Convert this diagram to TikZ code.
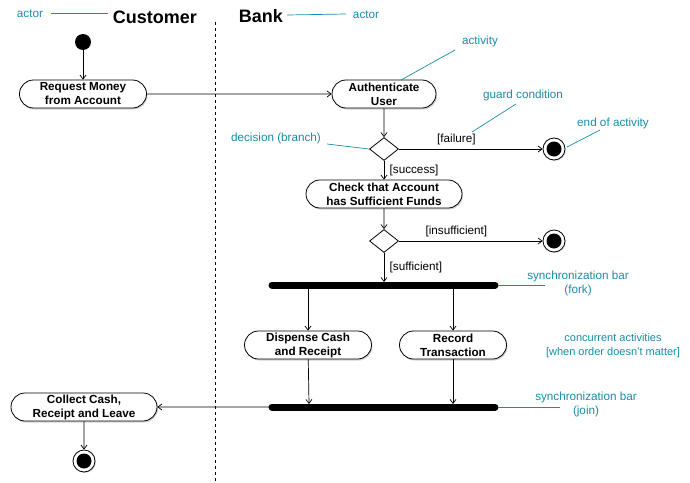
\documentclass[tikz,border=0pt]{standalone}
\usepackage{fontspec}
\setmainfont{Liberation Sans}
\usetikzlibrary{arrows.meta,shapes.geometric,shapes.misc,shadows}
\definecolor{note}{RGB}{24,140,168}
\tikzset{
  act/.style={draw,line width=0.8pt,rounded rectangle,minimum height=28pt,align=center,inner sep=1.5pt,font=\fontsize{11.7}{14}\selectfont\bfseries,fill=white,drop shadow={shadow xshift=1pt,shadow yshift=-1.5pt,fill=black!35}},
  dec/.style={draw,line width=0.8pt,diamond,aspect=1.3,minimum width=29pt,minimum height=23pt,inner sep=0pt,fill=white},
  startnode/.style={circle,fill=black,minimum size=16pt,inner sep=0pt},
  endnode/.style={circle,draw,thick,minimum size=22pt,inner sep=0pt,fill=white,
     drop shadow={shadow xshift=0.8pt,shadow yshift=-1pt,fill=black!30}},
  bar/.style={line width=7pt,line cap=round},
  flow/.style={-{Straight Barb[length=4pt,width=6pt]},line width=0.7pt},
  noteline/.style={draw=note,line width=0.7pt},
  notetxt/.style={text=note,font=\fontsize{11.7}{14}\selectfont,align=center},
  guard/.style={font=\fontsize{11.7}{14}\selectfont},
  title/.style={font=\fontsize{18}{20}\selectfont\bfseries}
}
\begin{document}
\begin{tikzpicture}[x=1pt,y=-1pt]
\useasboundingbox (0,0) rectangle (690,482);
% swimlane separator
\draw[dashed,line width=0.8pt] (215,22) -- (215,482);
% titles
\node[title] (cust) at (155,17) {Customer};
\node[title] (bank) at (261,16) {Bank};
\node[notetxt] (actL) at (30,14) {actor};
\node[notetxt] (actR) at (366,15) {actor};
\draw[noteline] (51,13) -- (108,13);
\draw[noteline] (287,15) -- (346,14);

% nodes
\node[startnode] (start) at (83,42) {};
\node[act,minimum width=130pt] (req) at (83,94) {Request Money\\from Account};
\node[act,minimum width=107pt] (auth) at (384,94) {Authenticate\\User};
\node[dec] (d1) at (384,149) {};
\node[endnode] (e1) at (554,149) {};
\fill (e1.center) circle (7.5pt);
\node[act,minimum width=159pt] (check) at (384,194) {Check that Account\\has Sufficient Funds};
\node[dec] (d2) at (384,241) {};
\node[endnode] (e2) at (554,241) {};
\fill (e2.center) circle (7.5pt);
\coordinate (forkL) at (272,285);
\coordinate (forkR) at (495,285);
\draw[bar] (forkL) -- (forkR);
\node[act,minimum width=130pt] (disp) at (308,345) {Dispense Cash\\and Receipt};
\node[act,minimum width=110pt] (rec) at (453,345) {Record\\Transaction};
\coordinate (joinL) at (272,407);
\coordinate (joinR) at (495,407);
\draw[bar] (joinL) -- (joinR);
\node[act,minimum width=149pt] (coll) at (84,407) {Collect Cash,\\Receipt and Leave};
\node[endnode] (e3) at (84,461) {};
\fill (e3.center) circle (7.5pt);

% flows
\draw[flow] (start) -- (req);
\draw[flow] (req) -- (auth);
\draw[flow] (auth) -- (d1);
\draw[flow] (d1) -- node[guard,above,pos=0.4] (gfail) {[failure]} (e1);
\draw[flow] (d1) -- node[guard,right,xshift=2pt] (gsucc) {[success]} (check);
\draw[flow] (check) -- (d2);
\draw[flow] (d2) -- node[guard,above,pos=0.4] (gins) {[insufficient]} (e2);
\coordinate (forkin) at (384,282);
\draw[flow] (d2) -- node[guard,right,xshift=2pt] (gsuf) {[sufficient]} (forkin);
\coordinate (f1) at (308,288);
\coordinate (f2) at (453,288);
\draw[flow] (f1) -- (disp);
\draw[flow] (f2) -- (rec);
\coordinate (j1) at (309,404);
\coordinate (j2) at (453,404);
\draw[flow] (disp) -- (j1);
\draw[flow] (rec) -- (j2);
\draw[flow] (joinL) -- (coll);
\draw[flow] (coll) -- (e3);

% annotations
\node[notetxt] (nact) at (480,41) {activity};
\draw[noteline] (401,80) -- (455,50);
\node[notetxt] (ndec) at (276,138) {decision (branch)};
\draw[noteline] (327,144) -- (369,149);
\node[notetxt] (nguard) at (523,95) {guard condition};
\draw[noteline] (472,132) -- (516,104);
\node[notetxt] (nend) at (613,123) {end of activity};
\draw[noteline] (567,147) -- (600,130);
\node[notetxt] (nfork) at (578,283) {synchronization bar\\(fork)};
\draw[noteline] (498,285) -- (545,285);
\node[notetxt,font=\fontsize{11}{14}\selectfont] (nconc) at (613,346) {concurrent activities\\{[when order doesn't matter]}};
\node[notetxt] (njoin) at (586,404) {synchronization bar\\(join)};
\draw[noteline] (498,407) -- (560,407);
\end{tikzpicture}
\end{document}
